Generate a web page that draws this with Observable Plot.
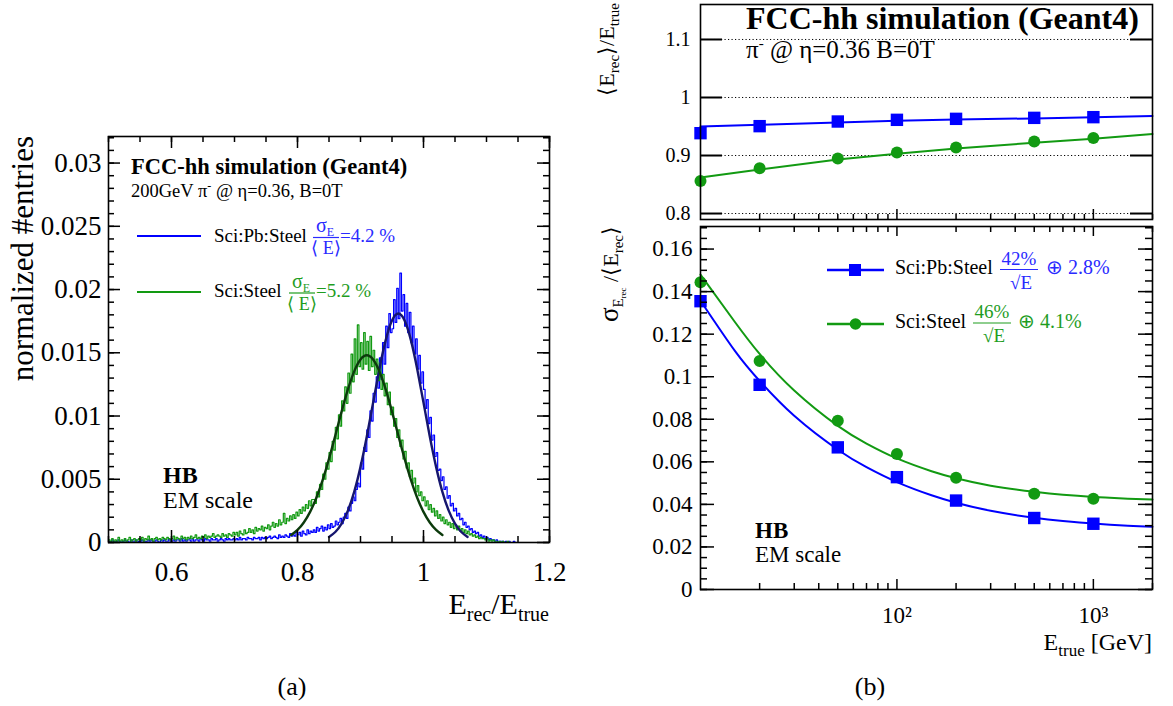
<!DOCTYPE html>
<html><head><meta charset="utf-8">
<script src="https://cdn.jsdelivr.net/npm/d3@7"></script>
<script src="https://cdn.jsdelivr.net/npm/@observablehq/plot@0.6"></script>
<style>
html,body{margin:0;padding:0;background:#fff;}
#root{position:relative;width:1173px;height:706px;overflow:hidden;background:#fff;font-family:"Liberation Serif",serif;}
#root svg, #root svg text{font-family:"Liberation Serif",serif !important;}
</style></head><body><div id="root"></div>
<script>
// ---------------- DATA ----------------
// (a) histogram: bin left edges 0.5000 ... 1.1975 (step 0.0025)
const histBins = d3.range(280).map(i => +(0.5 + i * 0.0025).toFixed(4));
const histSciPbSteel = [
0.0001,0.0000,0.0002,0.0001,0.0001,0.0000,0.0002,0.0001,0.0000,0.0001,
0.0002,0.0001,0.0001,0.0000,0.0002,0.0001,0.0001,0.0002,0.0000,0.0001,
0.0001,0.0002,0.0001,0.0001,0.0000,0.0002,0.0001,0.0002,0.0001,0.0001,
0.0002,0.0001,0.0000,0.0002,0.0001,0.0002,0.0001,0.0001,0.0003,0.0001,
0.0001,0.0002,0.0001,0.0002,0.0002,0.0001,0.0003,0.0001,0.0002,0.0001,
0.0002,0.0002,0.0001,0.0003,0.0001,0.0002,0.0002,0.0001,0.0003,0.0002,
0.0001,0.0003,0.0002,0.0002,0.0001,0.0003,0.0002,0.0002,0.0003,0.0001,
0.0002,0.0003,0.0002,0.0001,0.0003,0.0002,0.0003,0.0002,0.0002,0.0003,
0.0002,0.0003,0.0002,0.0004,0.0002,0.0003,0.0003,0.0002,0.0004,0.0003,
0.0003,0.0002,0.0004,0.0003,0.0003,0.0004,0.0002,0.0004,0.0003,0.0004,
0.0003,0.0004,0.0005,0.0003,0.0004,0.0005,0.0004,0.0003,0.0006,0.0004,
0.0005,0.0004,0.0006,0.0005,0.0004,0.0007,0.0005,0.0006,0.0005,0.0008,
0.0006,0.0008,0.0005,0.0009,0.0007,0.0006,0.0010,0.0007,0.0009,0.0008,
0.0010,0.0008,0.0012,0.0009,0.0011,0.0013,0.0009,0.0012,0.0010,0.0014,
0.0011,0.0015,0.0012,0.0013,0.0017,0.0014,0.0016,0.0019,0.0015,0.0020,
0.0023,0.0019,0.0028,0.0025,0.0031,0.0036,0.0033,0.0042,0.0047,0.0044,
0.0063,0.0058,0.0075,0.0072,0.0089,0.0083,0.0104,0.0096,0.0118,0.0111,
0.0131,0.0122,0.0146,0.0129,0.0158,0.0141,0.0171,0.0154,0.0181,0.0166,
0.0169,0.0192,0.0174,0.0201,0.0177,0.0213,0.0183,0.0196,0.0171,0.0189,
0.0166,0.0182,0.0158,0.0171,0.0149,0.0161,0.0137,0.0148,0.0126,0.0135,
0.0121,0.0106,0.0113,0.0094,0.0099,0.0081,0.0085,0.0068,0.0071,0.0057,
0.0058,0.0049,0.0052,0.0042,0.0044,0.0035,0.0037,0.0029,0.0031,0.0025,
0.0027,0.0021,0.0023,0.0018,0.0019,0.0014,0.0016,0.0012,0.0013,0.0010,
0.0011,0.0008,0.0009,0.0007,0.0008,0.0005,0.0006,0.0004,0.0005,0.0003,
0.0004,0.0002,0.0003,0.0002,0.0002,0.0001,0.0002,0.0001,0.0001,0.0001,
0.0001,0.0000,0.0001,0.0000,0.0001,0.0000,0.0000,0.0001,0.0000,0.0000,
0.0000,0.0000,0.0000,0.0000,0.0000,0.0000,0.0000,0.0000,0.0000,0.0000,
0.0000,0.0000,0.0000,0.0000,0.0000,0.0000,0.0000,0.0000,0.0000,0.0000];
const histSciSteel = [
0.0002,0.0001,0.0003,0.0000,0.0002,0.0001,0.0004,0.0001,0.0002,0.0001,
0.0003,0.0001,0.0002,0.0004,0.0001,0.0002,0.0003,0.0001,0.0002,0.0003,
0.0002,0.0004,0.0001,0.0003,0.0002,0.0005,0.0002,0.0003,0.0001,0.0003,
0.0004,0.0002,0.0003,0.0002,0.0004,0.0003,0.0002,0.0004,0.0003,0.0002,
0.0003,0.0005,0.0002,0.0004,0.0003,0.0002,0.0005,0.0003,0.0004,0.0002,
0.0004,0.0003,0.0005,0.0003,0.0004,0.0006,0.0003,0.0004,0.0003,0.0005,
0.0004,0.0006,0.0003,0.0005,0.0004,0.0005,0.0007,0.0004,0.0005,0.0006,
0.0005,0.0004,0.0007,0.0005,0.0006,0.0004,0.0007,0.0006,0.0005,0.0008,
0.0006,0.0008,0.0005,0.0009,0.0007,0.0006,0.0010,0.0007,0.0008,0.0011,
0.0008,0.0010,0.0007,0.0012,0.0009,0.0011,0.0010,0.0013,0.0009,0.0012,
0.0011,0.0014,0.0010,0.0013,0.0016,0.0012,0.0015,0.0013,0.0018,0.0014,
0.0016,0.0023,0.0015,0.0019,0.0017,0.0021,0.0018,0.0022,0.0019,0.0024,
0.0021,0.0026,0.0023,0.0028,0.0025,0.0030,0.0027,0.0033,0.0029,0.0034,
0.0034,0.0031,0.0040,0.0036,0.0046,0.0042,0.0054,0.0050,0.0063,0.0058,
0.0071,0.0064,0.0080,0.0073,0.0091,0.0082,0.0101,0.0092,0.0112,0.0104,
0.0123,0.0110,0.0134,0.0118,0.0149,0.0127,0.0161,0.0133,0.0172,0.0139,
0.0158,0.0137,0.0166,0.0141,0.0159,0.0136,0.0163,0.0139,0.0152,0.0133,
0.0145,0.0128,0.0142,0.0121,0.0133,0.0116,0.0126,0.0109,0.0119,0.0101,
0.0107,0.0092,0.0098,0.0083,0.0089,0.0076,0.0081,0.0066,0.0072,0.0059,
0.0063,0.0052,0.0057,0.0047,0.0051,0.0040,0.0045,0.0037,0.0040,0.0033,
0.0036,0.0029,0.0033,0.0026,0.0030,0.0024,0.0027,0.0021,0.0025,0.0019,
0.0022,0.0017,0.0020,0.0015,0.0018,0.0014,0.0016,0.0012,0.0015,0.0011,
0.0014,0.0010,0.0013,0.0009,0.0011,0.0008,0.0010,0.0007,0.0009,0.0006,
0.0007,0.0005,0.0006,0.0004,0.0005,0.0003,0.0004,0.0003,0.0003,0.0002,
0.0003,0.0001,0.0002,0.0001,0.0002,0.0001,0.0001,0.0000,0.0001,0.0000,
0.0001,0.0000,0.0000,0.0001,0.0000,0.0000,0.0000,0.0000,0.0000,0.0000,
0.0000,0.0000,0.0000,0.0000,0.0000,0.0000,0.0000,0.0000,0.0000,0.0000,
0.0000,0.0000,0.0000,0.0000,0.0000,0.0000,0.0000,0.0000,0.0000,0.0000];
// (a) Gaussian fit curves, read at sample points
const fitPbX = [0.85,0.86,0.87,0.88,0.89,0.90,0.91,0.92,0.93,0.94,0.95,0.96,0.97,0.98,0.99,1.00,1.01,1.02,1.03,1.04,1.05,1.06,1.07];
const fitPbY = [0.00044,0.00083,0.00150,0.00252,0.00400,0.00598,0.00838,0.01106,0.01372,0.0160,0.01756,0.0181,0.01756,0.0160,0.01372,0.01106,0.00838,0.00598,0.00400,0.00252,0.00150,0.00083,0.00044];
const fitSteelX = [0.79,0.80,0.81,0.82,0.83,0.84,0.85,0.86,0.87,0.88,0.89,0.90,0.91,0.92,0.93,0.94,0.95,0.96,0.97,0.98,0.99,1.00,1.01,1.02,1.03];
const fitSteelY = [0.00059,0.00099,0.00158,0.00242,0.00354,0.00495,0.00662,0.00846,0.01035,0.01210,0.01353,0.01447,0.0148,0.01447,0.01353,0.01210,0.01035,0.00846,0.00662,0.00495,0.00354,0.00242,0.00158,0.00099,0.00059];
const xTicksA = [0.6, 0.8, 1.0, 1.2];
const xTickLabelsA = ["0.6", "0.8", "1", "1.2"];
const yTicksA = [0, 0.005, 0.01, 0.015, 0.02, 0.025, 0.03];
const yTickLabelsA = ["0", "0.005", "0.01", "0.015", "0.02", "0.025", "0.03"];

// (b) energies and measurements
const energies = [10, 20, 50, 100, 200, 500, 1000];
const responsePb = [0.9385, 0.9506, 0.9586, 0.9615, 0.9632, 0.9649, 0.9661];
const responseSteel = [0.856, 0.878, 0.895, 0.905, 0.914, 0.924, 0.930];
const responseFitE = [10, 20, 50, 100, 200, 500, 1000, 2000];
const responseFitPb = [0.950, 0.953, 0.957, 0.960, 0.962, 0.964, 0.966, 0.968];
const responseFitSteel = [0.862, 0.876, 0.893, 0.903, 0.912, 0.922, 0.929, 0.937];
const resolutionPb = [0.1355, 0.0962, 0.0668, 0.0528, 0.0418, 0.0336, 0.0309];
const resolutionSteel = [0.1444, 0.1074, 0.0793, 0.0637, 0.0525, 0.0450, 0.0426];
const resFitE = [10, 15, 20, 30, 50, 70, 100, 150, 200, 300, 500, 700, 1000, 1500, 2000];
const resFitPb = [0.1357, 0.1120, 0.0980, 0.0816, 0.0657, 0.0575, 0.0505, 0.0443, 0.0408, 0.0370, 0.0337, 0.0322, 0.0310, 0.0300, 0.0295];
const resFitSteel = [0.148, 0.1256, 0.1107, 0.0935, 0.0769, 0.0686, 0.0616, 0.0556, 0.0523, 0.0488, 0.0459, 0.0445, 0.0435, 0.0427, 0.0423];
const respYTicks = [0.8, 0.9, 1.0, 1.1];
const respYTickLabels = ["0.8", "0.9", "1", "1.1"];
const resYTicks = [0, 0.02, 0.04, 0.06, 0.08, 0.1, 0.12, 0.14, 0.16];
const resYTickLabels = ["0", "0.02", "0.04", "0.06", "0.08", "0.1", "0.12", "0.14", "0.16"];
const logMajor = [100, 1000];
const logMajorLabels = ["10²", "10³"];
const logMinor = [20,30,40,50,60,70,80,90,200,300,400,500,600,700,800,900,2000];

// ---------------- STYLE ----------------
const blue = "#0000ff", green = "#129a12";
const blueText = "#2a2aff", greenText = "#1f9d1f";
const blueFit = "#16166e", greenFit = "#0c3a0c";
const FONT = "Liberation Serif, serif";

function edgeTicks({xv = [], yv = [], xlen = 0, ylen = 0, xDom, yDom, iw, ih, xlog = false,
                    top = true, bottom = true, left = true, right = true, sw = 1.5}) {
  const marks = [];
  const yUnit = (yDom[1] - yDom[0]) / ih;
  const xAt = (px, fromRight) => xlog
    ? (fromRight ? xDom[1] / Math.pow(xDom[1] / xDom[0], px / iw) : xDom[0] * Math.pow(xDom[1] / xDom[0], px / iw))
    : (fromRight ? xDom[1] - px * (xDom[1] - xDom[0]) / iw : xDom[0] + px * (xDom[1] - xDom[0]) / iw);
  const st = {stroke: "black", strokeWidth: sw};
  if (xv.length) {
    if (bottom) marks.push(Plot.ruleX(xv, {x: d => d, y1: () => yDom[0], y2: () => yDom[0] + xlen * yUnit, ...st}));
    if (top) marks.push(Plot.ruleX(xv, {x: d => d, y1: () => yDom[1] - xlen * yUnit, y2: () => yDom[1], ...st}));
  }
  if (yv.length) {
    if (left) marks.push(Plot.ruleY(yv, {y: d => d, x1: () => xDom[0], x2: () => xAt(ylen, false), ...st}));
    if (right) marks.push(Plot.ruleY(yv, {y: d => d, x1: () => xAt(ylen, true), x2: () => xDom[1], ...st}));
  }
  return marks;
}
const root = document.getElementById("root");
function place(el, left, top) {
  el.style.position = "absolute"; el.style.left = left + "px"; el.style.top = top + "px";
  el.style.fontFamily = FONT; el.setAttribute("font-family", FONT);
  d3.select(el).selectAll("g").attr("font-family", FONT);
  d3.select(el).selectAll("text").attr("font-family", FONT).style("font-family", FONT);
  root.appendChild(el);
}
const baseStyle = {fontFamily: FONT, background: "transparent", overflow: "visible", color: "black"};

// ---------------- PANEL (a) ----------------
{
  const W = 580, H = 650, L = 108, R = 549, T = 136, B = 542;
  const xDom = [0.5, 1.2], yDom = [0, 0.0321];
  const iw = R - L, ih = B - T;
  const histTable = vals => histBins.map((x, i) => ({x, y: vals[i]})).concat([{x: 1.2, y: vals[vals.length - 1]}]);
  const fitTable = (xs, ys) => xs.map((x, i) => ({x, y: ys[i]}));
  const xl = new Map(xTicksA.map((d, i) => [d, xTickLabelsA[i]]));
  const yl = new Map(yTicksA.map((d, i) => [d, yTickLabelsA[i]]));
  const p = Plot.plot({
    width: W, height: H, marginLeft: L, marginRight: W - R, marginTop: T, marginBottom: H - B,
    x: {domain: xDom}, y: {domain: yDom},
    style: baseStyle,
    marks: [
      Plot.line(histTable(histSciPbSteel), {x: "x", y: "y", curve: "step-after", stroke: blue, strokeWidth: 1.2}),
      Plot.line(histTable(histSciSteel), {x: "x", y: "y", curve: "step-after", stroke: green, strokeWidth: 1.2}),
      Plot.line(fitTable(fitPbX, fitPbY), {x: "x", y: "y", curve: "natural", stroke: blueFit, strokeWidth: 2.4}),
      Plot.line(fitTable(fitSteelX, fitSteelY), {x: "x", y: "y", curve: "natural", stroke: greenFit, strokeWidth: 2.4}),
      Plot.frame({stroke: "black", strokeWidth: 1.6}),
      ...edgeTicks({xv: xTicksA, xlen: 12, xDom, yDom, iw, ih}),
      ...edgeTicks({xv: d3.range(0.5, 1.2001, 0.05), xlen: 6, xDom, yDom, iw, ih}),
      ...edgeTicks({yv: yTicksA, ylen: 12, xDom, yDom, iw, ih}),
      ...edgeTicks({yv: d3.range(0, 0.0321, 0.001), ylen: 6, xDom, yDom, iw, ih}),
      Plot.axisX({ticks: xTicksA, tickSize: 0, tickPadding: 19, tickFormat: d => xl.get(d), fontSize: 27, fontFamily: FONT, label: null}),
      Plot.axisY({ticks: yTicksA, tickSize: 0, tickPadding: 7, tickFormat: d => yl.get(d), fontSize: 27, fontFamily: FONT, label: null})
    ]
  });
  place(p, 0, 0);
}

// ---------------- PANEL (b) top: response ----------------
{
  const W = 593, H = 222, L = 120, R = 572, T = 4, B = 219;
  const xDom = [10, 2000], yDom = [0.7897, 1.1603];
  const iw = R - L, ih = B - T;
  const yl = new Map(respYTicks.map((d, i) => [d, respYTickLabels[i]]));
  const pts = ys => energies.map((e, i) => ({e, v: ys[i]}));
  const fit = ys => responseFitE.map((e, i) => ({e, v: ys[i]}));
  const p = Plot.plot({
    width: W, height: H, marginLeft: L, marginRight: W - R, marginTop: T, marginBottom: H - B,
    x: {type: "log", domain: xDom, axis: null}, y: {domain: yDom},
    style: baseStyle,
    marks: [
      Plot.ruleY(respYTicks, {stroke: "black", strokeDasharray: "1.2,2.3", strokeWidth: 1}),
      Plot.line(fit(responseFitPb), {x: "e", y: "v", stroke: blue, strokeWidth: 2}),
      Plot.line(fit(responseFitSteel), {x: "e", y: "v", stroke: green, strokeWidth: 2}),
      Plot.dot(pts(responsePb), {x: "e", y: "v", symbol: "square", r: 7, fill: blue}),
      Plot.dot(pts(responseSteel), {x: "e", y: "v", symbol: "circle", r: 6, fill: green}),
      Plot.frame({stroke: "black", strokeWidth: 1.6}),
      ...edgeTicks({yv: respYTicks, ylen: 22, xDom, yDom, iw, ih, xlog: true, sw: 2}),
      ...edgeTicks({xv: logMajor, xlen: 10, xDom, yDom, iw, ih, xlog: true, top: false}),
      ...edgeTicks({xv: logMinor, xlen: 5, xDom, yDom, iw, ih, xlog: true, top: false}),
      Plot.axisY({ticks: respYTicks, tickSize: 0, tickPadding: 10, tickFormat: d => yl.get(d), fontSize: 20, fontFamily: FONT, label: null})
    ]
  });
  place(p, 580, 0);
}

// ---------------- PANEL (b) bottom: resolution ----------------
{
  const W = 593, H = 484, L = 120, R = 572, T = 4, B = 367;
  const xDom = [10, 2000], yDom = [0, 0.1706];
  const iw = R - L, ih = B - T;
  const yl = new Map(resYTicks.map((d, i) => [d, resYTickLabels[i]]));
  const xl = new Map(logMajor.map((d, i) => [d, logMajorLabels[i]]));
  const pts = ys => energies.map((e, i) => ({e, v: ys[i]}));
  const fit = ys => resFitE.map((e, i) => ({e, v: ys[i]}));
  const p = Plot.plot({
    width: W, height: H, marginLeft: L, marginRight: W - R, marginTop: T, marginBottom: H - B,
    x: {type: "log", domain: xDom}, y: {domain: yDom},
    style: baseStyle,
    marks: [
      Plot.line(fit(resFitPb), {x: "e", y: "v", curve: "natural", stroke: blue, strokeWidth: 2}),
      Plot.line(fit(resFitSteel), {x: "e", y: "v", curve: "natural", stroke: green, strokeWidth: 2}),
      Plot.dot(pts(resolutionPb), {x: "e", y: "v", symbol: "square", r: 7, fill: blue}),
      Plot.dot(pts(resolutionSteel), {x: "e", y: "v", symbol: "circle", r: 6, fill: green}),
      Plot.frame({stroke: "black", strokeWidth: 1.6}),
      ...edgeTicks({yv: resYTicks, ylen: 14, xDom, yDom, iw, ih, xlog: true}),
      ...edgeTicks({yv: d3.range(0, 0.1706, 0.005), ylen: 7, xDom, yDom, iw, ih, xlog: true}),
      ...edgeTicks({xv: logMajor, xlen: 10, xDom, yDom, iw, ih, xlog: true}),
      ...edgeTicks({xv: logMinor, xlen: 6, xDom, yDom, iw, ih, xlog: true}),
      Plot.axisY({ticks: resYTicks, tickSize: 0, tickPadding: 8, tickFormat: d => yl.get(d), fontSize: 23, fontFamily: FONT, label: null}),
      Plot.axisX({ticks: logMajor, tickSize: 0, tickPadding: 17, tickFormat: d => xl.get(d), fontSize: 23, fontFamily: FONT, label: null})
    ]
  });
  place(p, 580, 222);
}

// ---------------- TEXT OVERLAY ----------------
const ov = d3.select(root).append("svg")
  .attr("width", 1173).attr("height", 706)
  .style("position", "absolute").style("left", "0px").style("top", "0px")
  .style("pointer-events", "none").attr("font-family", FONT);

function txt(x, y, parts, {size = 20, anchor = "start", weight = "normal", fill = "black", rotate = 0} = {}) {
  const t = ov.append("text").attr("x", x).attr("y", y).attr("font-size", size)
    .attr("text-anchor", anchor).attr("font-weight", weight).attr("fill", fill);
  if (rotate) t.attr("transform", `rotate(${rotate},${x},${y})`);
  if (typeof parts === "string") parts = [[parts]];
  let shift = 0;
  for (const [s, o = {}] of parts) {
    const sp = t.append("tspan").text(s);
    const target = o.dy || 0;
    if (target !== shift) { sp.attr("dy", target - shift); shift = target; }
    if (o.size) sp.attr("font-size", o.size);
    if (o.weight) sp.attr("font-weight", o.weight);
  }
  return t;
}
function hline(x1, x2, y, color, w) {
  ov.append("line").attr("x1", x1).attr("x2", x2).attr("y1", y).attr("y2", y).attr("stroke", color).attr("stroke-width", w);
}

// panel (a) texts
txt(33, 136, "normalized #entries", {size: 31, anchor: "end", rotate: -90});
txt(549, 614, [["E"], ["rec", {dy: 7, size: 20}], ["/E", {dy: 0}], ["true", {dy: 7, size: 20}]], {size: 30, anchor: "end"});
txt(131, 174, "FCC-hh simulation (Geant4)", {size: 22.5, weight: "bold"});
txt(131, 197, [["200GeV π"], ["-", {dy: -7, size: 12}], [" @ η=0.36, B=0T", {dy: 0}]], {size: 18.5});
// legend (a)
hline(137, 201, 236, blue, 2);
txt(214, 242, "Sci:Pb:Steel", {size: 19});
txt(325, 232, [["σ"], ["E", {dy: 4, size: 12}]], {size: 20, anchor: "middle", fill: blueText});
hline(313, 339, 237.5, blueText, 1.2);
txt(326, 254, "⟨ E⟩", {size: 18, anchor: "middle", fill: blueText});
txt(340, 242, "=4.2 %", {size: 19, fill: blueText});
hline(137, 201, 292, green, 2);
txt(214, 297, "Sci:Steel", {size: 19});
txt(301, 288, [["σ"], ["E", {dy: 4, size: 12}]], {size: 20, anchor: "middle", fill: greenText});
hline(289, 315, 293, greenText, 1.2);
txt(302, 310, "⟨ E⟩", {size: 18, anchor: "middle", fill: greenText});
txt(316, 297, "=5.2 %", {size: 19, fill: greenText});
txt(163, 483, "HB", {size: 24, weight: "bold"});
txt(163, 508, "EM scale", {size: 24});

// panel (b) texts
txt(614, 3, [["⟨E"], ["rec", {dy: 5, size: 15}], ["⟩/E", {dy: 0}], ["true", {dy: 5, size: 15}]], {size: 22, anchor: "end", rotate: -90});
txt(746, 29, "FCC-hh simulation (Geant4)", {size: 32, weight: "bold"});
txt(746, 58, [["π"], ["-", {dy: -10, size: 15}], [" @ η=0.36 B=0T", {dy: 0}]], {size: 25});
txt(618, 226, [["σ", {size: 27}], ["E", {dy: 5, size: 15}], ["rec", {dy: 8, size: 9}], [" /⟨E", {dy: 0, size: 22}], ["rec", {dy: 5, size: 15}], ["⟩", {dy: 0, size: 22}]], {size: 22, anchor: "end", rotate: -90});
txt(1152, 650, [["E"], ["true", {dy: 6, size: 17}], [" [GeV]", {dy: 0}]], {size: 24, anchor: "end"});
// legend (b)
hline(827, 884, 270, blue, 2.5);
ov.append("rect").attr("x", 849).attr("y", 264).attr("width", 12).attr("height", 12).attr("fill", blue);
txt(895, 274, "Sci:Pb:Steel", {size: 20});
txt(1019, 265, "42%", {size: 19, anchor: "middle", fill: blueText});
hline(1000, 1038, 269.5, blueText, 1.2);
txt(1021, 289, "√E", {size: 19, anchor: "middle", fill: blueText});
txt(1046, 274, "⊕ 2.8%", {size: 20, fill: blueText});
hline(827, 884, 324, green, 2.5);
ov.append("circle").attr("cx", 855.5).attr("cy", 324).attr("r", 5.8).attr("fill", green);
txt(895, 328, "Sci:Steel", {size: 20});
txt(992, 318, "46%", {size: 19, anchor: "middle", fill: greenText});
hline(973, 1011, 323, greenText, 1.2);
txt(994, 342, "√E", {size: 19, anchor: "middle", fill: greenText});
txt(1018, 328, "⊕ 4.1%", {size: 20, fill: greenText});
txt(755, 538, "HB", {size: 23, weight: "bold"});
txt(755, 562, "EM scale", {size: 23});

// captions
txt(292, 695, "(a)", {size: 26, anchor: "middle"});
txt(870, 695, "(b)", {size: 26, anchor: "middle"});
</script></body></html>
